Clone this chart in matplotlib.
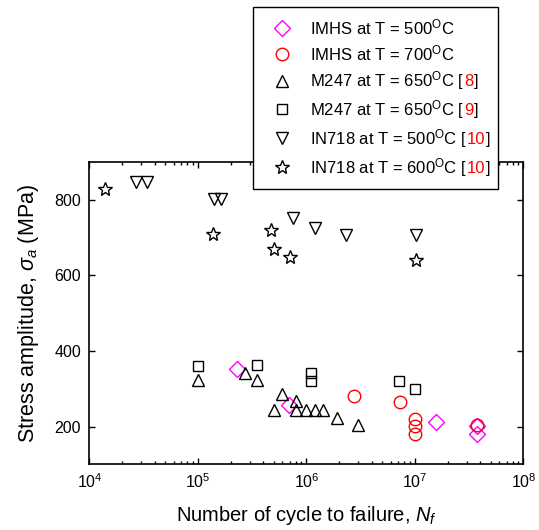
import numpy as np
import matplotlib
matplotlib.use('Agg')
from matplotlib import pyplot as plt
from matplotlib.ticker import LogLocator, NullFormatter

plt.rcParams['font.family'] = ['Liberation Sans', 'DejaVu Sans']
plt.rcParams['mathtext.fontset'] = 'custom'
plt.rcParams['mathtext.rm'] = 'Liberation Sans'
plt.rcParams['mathtext.it'] = 'Liberation Sans:italic'
plt.rcParams['mathtext.default'] = 'regular'

# data (cycles, MPa)
imhs500_n = [2.28e5, 6.85e5, 1.56e7, 3.72e7, 3.72e7]
imhs500_s = [351, 258, 211, 201, 179]

imhs700_n = [2.75e6, 7.3e6, 1.0e7, 1.0e7, 1.0e7, 3.72e7]
imhs700_s = [282, 266, 221, 201, 180, 203]

m247a_n = [1.0e5, 2.7e5, 3.5e5, 5.0e5, 6.0e5, 8.0e5, 8.0e5, 9.9e5, 1.19e6, 1.41e6, 1.9e6, 3.0e6]
m247a_s = [324, 343, 322, 243, 285, 267, 243, 243, 243, 243, 223, 203]

m247b_n = [1.0e5, 3.5e5, 1.1e6, 1.1e6, 7.1e6, 1.0e7]
m247b_s = [360, 362, 342, 320, 320, 300]

in718a_n = [2.7e4, 3.4e4, 1.41e5, 1.62e5, 7.5e5, 1.2e6, 2.3e6, 1.02e7]
in718a_s = [847, 847, 803, 803, 752, 727, 707, 707]

in718b_n = [1.4e4, 1.39e5, 4.7e5, 5.0e5, 7.0e5, 1.02e7]
in718b_s = [829, 710, 721, 670, 650, 640]

labels = ['IMHS at T = 500$^{\\rm O}$C',
          'IMHS at T = 700$^{\\rm O}$C',
          'M247 at T = 650$^{\\rm O}$C [',
          'M247 at T = 650$^{\\rm O}$C [',
          'IN718 at T = 500$^{\\rm O}$C [',
          'IN718 at T = 600$^{\\rm O}$C [']
refs = [None, None, '8', '9', '10', '10']

fig = plt.figure(figsize=(5.39, 5.30), dpi=100)
ax = fig.add_axes([0.166, 0.124, 0.805, 0.57])

kw = dict(linestyle='none', markerfacecolor='none', markeredgewidth=1.0)
ax.plot(imhs500_n, imhs500_s, marker='D', ms=8, markeredgecolor='magenta', label=labels[0], **kw)
ax.plot(imhs700_n, imhs700_s, marker='o', ms=9, markeredgecolor='red', label=labels[1], **kw)
ax.plot(m247a_n, m247a_s, marker='^', ms=8, markeredgecolor='black', label=labels[2], **kw)
ax.plot(m247b_n, m247b_s, marker='s', ms=7, markeredgecolor='black', label=labels[3], **kw)
ax.plot(in718a_n, in718a_s, marker='v', ms=8, markeredgecolor='black', label=labels[4], **kw)
ax.plot(in718b_n, in718b_s, marker='*', ms=10, markeredgecolor='black', label=labels[5], **kw)

ax.set_xscale('log')
ax.set_xlim(1e4, 1e8)
ax.set_ylim(100, 900)
ax.set_yticks([200, 400, 600, 800])
ax.xaxis.set_minor_locator(LogLocator(base=10, subs=np.arange(2, 10), numticks=20))
ax.xaxis.set_minor_formatter(NullFormatter())
ax.tick_params(which='both', direction='in', top=True, right=True, labelsize=11.5)
ax.tick_params(which='major', length=4, width=1, pad=6)
ax.tick_params(which='minor', length=2.5, width=1)
for sp in ax.spines.values():
    sp.set_linewidth(1.2)

ax.set_xlabel('Number of cycle to failure, $\\mathit{N_f}$', fontsize=14.5, labelpad=9)
ax.set_ylabel('Stress amplitude, $\\mathit{\\sigma_a}$ (MPa)', fontsize=15.5, labelpad=10)

leg = ax.legend(loc='upper left', bbox_to_anchor=(253 / 539, 1 - 184 / 530, 245 / 539, 177 / 530),
                bbox_transform=fig.transFigure, mode='expand', fontsize=12, frameon=True,
                fancybox=False, edgecolor='black', framealpha=1,
                handlelength=2.2, handletextpad=0.6, labelspacing=0.36,
                borderpad=0.62, borderaxespad=0)
leg.get_frame().set_linewidth(1.0)

# reference numbers in red, closing bracket in black
for txt, ref in zip(leg.get_texts(), refs):
    if ref is None:
        continue
    a = ax.annotate(ref, xy=(1, 0), xycoords=(txt, txt.get_transform()), va='baseline',
                    ha='left', color='red', fontsize=12, annotation_clip=False, zorder=10)
    ax.annotate(']', xy=(1, 0), xycoords=a, va='bottom', ha='left',
                color='black', fontsize=12, annotation_clip=False, zorder=10)

plt.savefig('out.png', dpi=100)
